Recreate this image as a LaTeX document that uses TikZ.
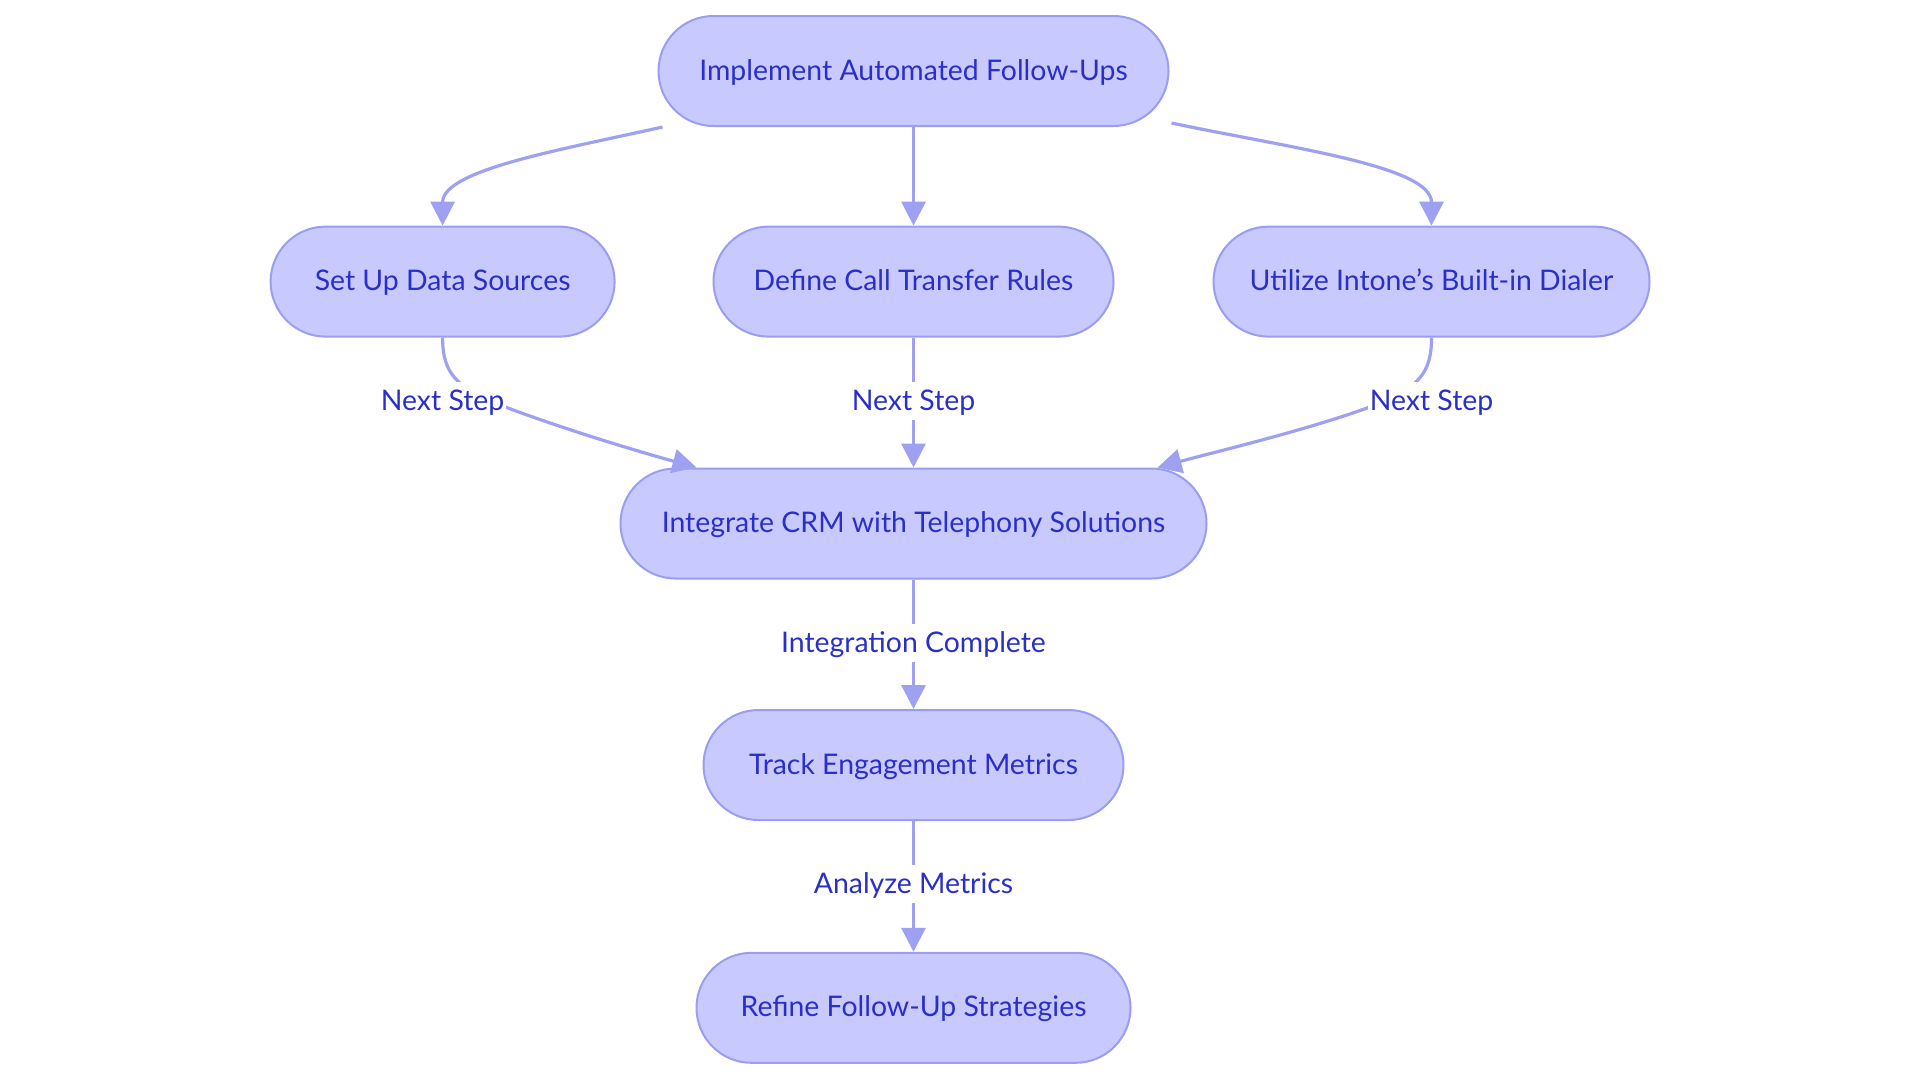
\documentclass[tikz,border=0pt]{standalone}
\usepackage{fontspec}
\setmainfont{Lato}
\usetikzlibrary{arrows.meta,calc}
\definecolor{boxfill}{RGB}{200,201,255}
\definecolor{boxline}{RGB}{154,157,240}
\definecolor{flowline}{RGB}{158,160,242}
\definecolor{boxtext}{RGB}{41,47,200}
\begin{document}
\begin{tikzpicture}[x=0.5pt,y=0.5pt,
    stepnode/.style={draw=boxline, line width=1pt, fill=boxfill, rounded corners=27.5pt,
        minimum height=55pt, inner xsep=6pt, text height=12pt, text depth=3pt,
        text=boxtext, font=\fontsize{14.2}{17}\selectfont},
    edgelabel/.style={fill=white, text=boxtext, inner xsep=1pt, inner ysep=2pt,
        text height=12pt, text depth=3pt, font=\fontsize{14.2}{17}\selectfont},
    flow/.style={draw=flowline, line width=1.6pt, -{Triangle[length=12pt,width=12pt]}}]
    \useasboundingbox (0,0) rectangle (1920,-1083);
    \node[stepnode, minimum width=255pt] (Impl)    at (913.5,-71)   {Implement Automated Follow-Ups};
    \node[stepnode, minimum width=172pt] (Sources) at (442.6,-281.6) {Set Up Data Sources};
    \node[stepnode, minimum width=200pt] (Rules)   at (913.5,-281.6) {Define Call Transfer Rules};
    \node[stepnode, minimum width=218pt] (Dialer)  at (1431.5,-281.6) {Utilize Intone’s Built-in Dialer};
    \node[stepnode, minimum width=293pt] (Crm)     at (913.5,-523.5) {Integrate CRM with Telephony Solutions};
    \node[stepnode, minimum width=210pt] (Track)   at (913.5,-765)   {Track Engagement Metrics};
    \node[stepnode, minimum width=217pt] (Refine)  at (913.5,-1007.8) {Refine Follow-Up Strategies};
    \coordinate (ImplL) at ($(Impl.south west)+(5,0)$);
    \coordinate (ImplR) at ($(Impl.south east)+(2,4)$);
    \coordinate (CrmL)  at ($(Crm.north west)+(77,0)$);
    \coordinate (CrmR)  at ($(Crm.north east)+(-50,0)$);
    % first row
    \draw[flow] (ImplL) .. controls (560,-150) and (442.6,-170) .. (Sources.north);
    \draw[flow] (Impl.south) -- (Rules.north);
    \draw[flow] (ImplR) .. controls (1290,-148) and (1431.5,-166) .. (Dialer.north);
    % into the integration step
    \draw[flow] (Sources.south) .. controls (442.6,-372) and (455,-387) .. (500,-405)
        .. controls (560,-428) and (640,-452) .. (CrmL);
    \draw[flow] (Rules.south) -- (Crm.north);
    \draw[flow] (Dialer.south) .. controls (1431.5,-372) and (1420,-387) .. (1375,-405)
        .. controls (1315,-428) and (1215,-452) .. (CrmR);
    \draw[flow] (Crm.south) -- (Track.north);
    \draw[flow] (Track.south) -- (Refine.north);
    % labels
    \node[edgelabel] (NextA) at (442.6,-401)  {Next Step};
    \node[edgelabel] (NextB) at (913.5,-401)  {Next Step};
    \node[edgelabel] (NextC) at (1431.5,-401) {Next Step};
    \node[edgelabel] (Done)  at (913.5,-643)  {Integration Complete};
    \node[edgelabel] (Check) at (913.5,-884)  {Analyze Metrics};
\end{tikzpicture}
\end{document}
